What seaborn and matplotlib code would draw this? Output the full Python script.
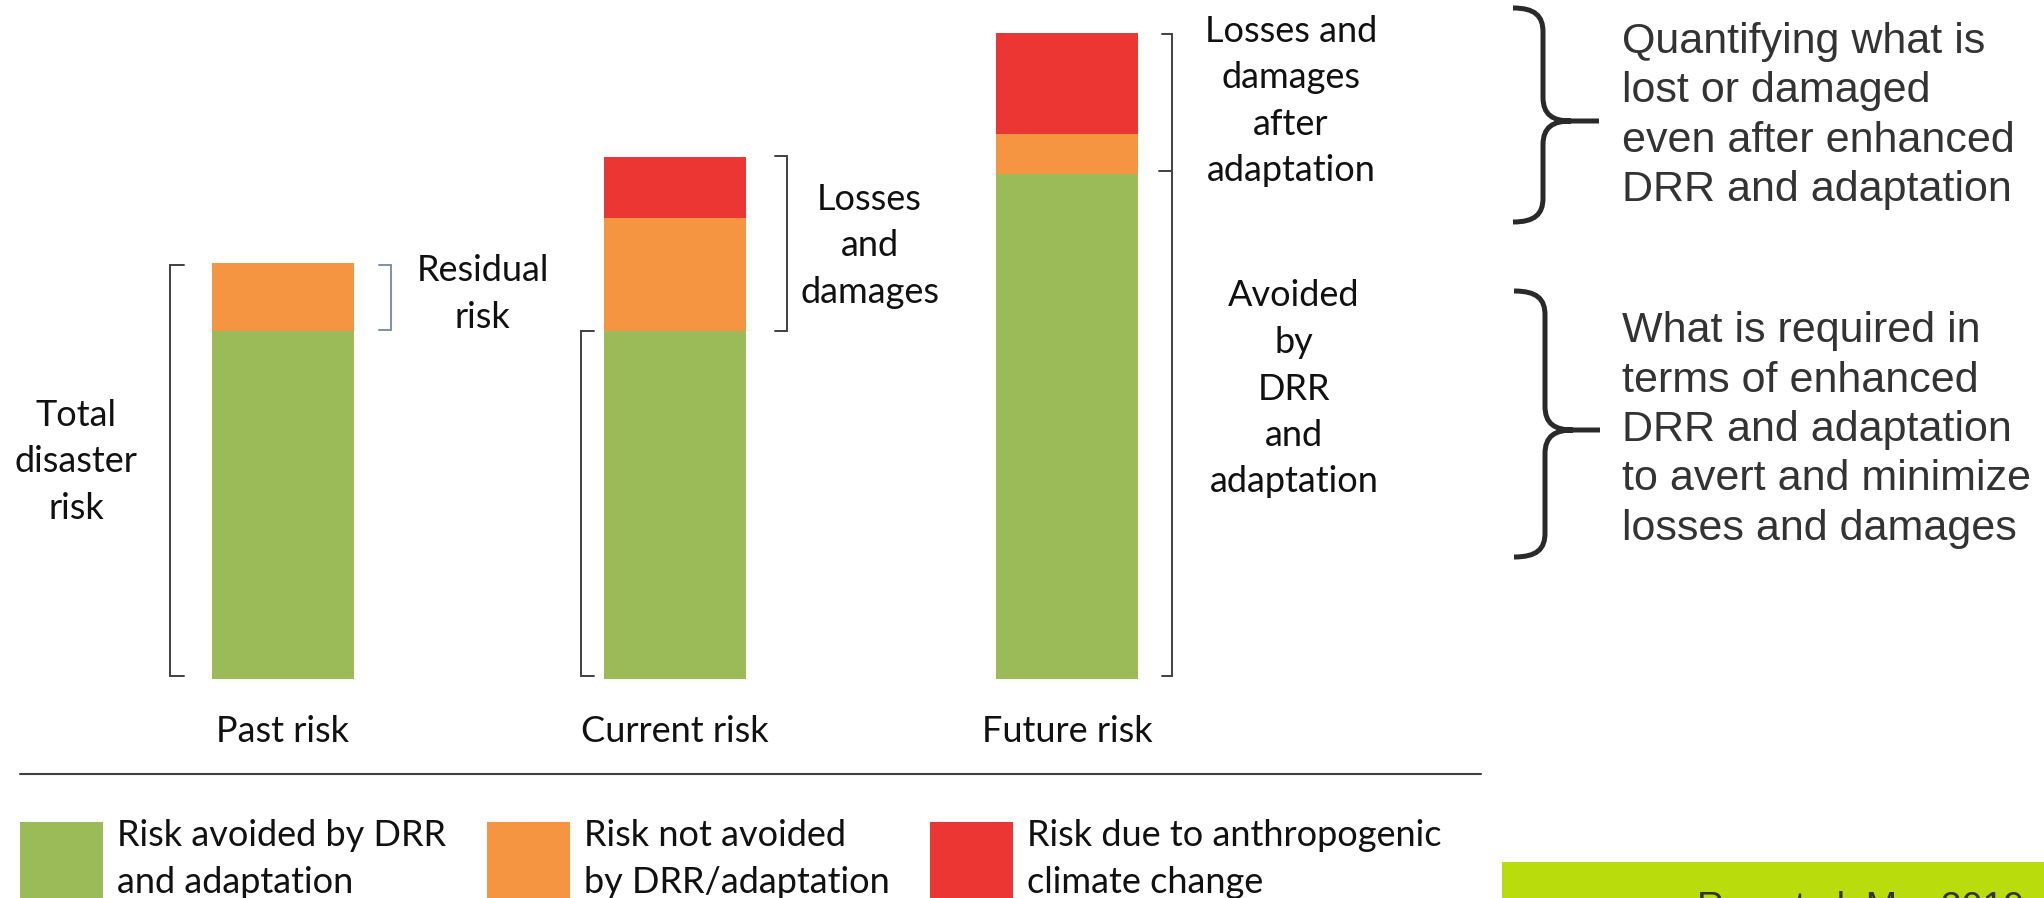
import matplotlib

matplotlib.use("Agg")
import matplotlib.pyplot as plt
import seaborn as sns
from matplotlib.patches import Rectangle, PathPatch
from matplotlib.path import Path

# values in relative units (past "avoided" bar = 100)
categories = ["Past risk", "Current risk", "Future risk"]
avoided = [100, 100, 145]       # risk avoided by DRR and adaptation
not_avoided = [19.5, 32.5, 11.5]  # risk not avoided by DRR/adaptation
climate = [0, 17.5, 29]          # risk due to anthropogenic climate change

legend_labels = [
    "Risk avoided by DRR\nand adaptation",
    "Risk not avoided\nby DRR/adaptation",
    "Risk due to anthropogenic\nclimate change",
]
note_top = "Quantifying what is\nlost or damaged\neven after enhanced\nDRR and adaptation"
note_bottom = ("What is required in\nterms of enhanced\nDRR and adaptation\n"
               "to avert and minimize\nlosses and damages")
source = "Roy et al. Mar 2019"

GREEN = "#9bbb59"
ORANGE = "#f59542"
RED = "#ec3634"
LIME = "#b9dc0c"
INK = "#404040"

W, H = 2044, 898

sns.set_style("white")
plt.rcParams["font.family"] = ["Lato", "DejaVu Sans"]

fig = plt.figure(figsize=(W / 100, H / 100), dpi=100)
ax = fig.add_axes([87 / W, 1 - 679 / H, 1176 / W, 678.6 / H])

tot_orange = [a + b for a, b in zip(avoided, not_avoided)]
tot_red = [t + c for t, c in zip(tot_orange, climate)]
for vals, col in [(tot_red, RED), (tot_orange, ORANGE), (avoided, GREEN)]:
    sns.barplot(x=categories, y=vals, color=col, saturation=1, width=0.362,
                errorbar=None, linewidth=0, ax=ax)

ax.set_xlim(-0.5, 2.5)
ax.set_ylim(0, 195)
ax.set_yticks([])
ax.set_xlabel("")
ax.set_ylabel("")
ax.tick_params(axis="x", length=0, pad=26, labelsize=26, labelcolor="#111111")
sns.despine(ax=ax, left=True, bottom=True)
ax.patch.set_alpha(0)

# overlay in pixel coordinates for annotations
ov = fig.add_axes([0, 0, 1, 1], zorder=5)
ov.set_xlim(0, W)
ov.set_ylim(H, 0)
ov.axis("off")
ov.patch.set_alpha(0)


def px(i, v):
    X, Y = ax.transData.transform((i, v))
    return X, H - Y


def bracket(x, y0, y1, tick, color=INK, mid=None):
    ov.plot([x + tick, x, x, x + tick], [y0, y0, y1, y1], color=color, lw=1.4,
            solid_joinstyle="miter")
    if mid is not None:
        ov.plot([x, x + tick * 1.3], [mid, mid], color=color, lw=1.4)


def brace(x_end, x_mid, x_tip, y0, ym, y1):
    r = 24
    verts = [(x_end, y0), (x_mid - 8, y0), (x_mid, y0 + 8), (x_mid, y0 + r),
             (x_mid, ym - r), (x_mid, ym - 6), (x_mid + 10, ym), (x_mid + 28, ym),
             (x_tip, ym),
             (x_mid + 28, ym), (x_mid + 10, ym), (x_mid, ym + 6), (x_mid, ym + r),
             (x_mid, y1 - r), (x_mid, y1 - 8), (x_mid - 8, y1), (x_end, y1)]
    codes = [Path.MOVETO, Path.CURVE4, Path.CURVE4, Path.CURVE4,
             Path.LINETO, Path.CURVE4, Path.CURVE4, Path.CURVE4,
             Path.LINETO,
             Path.MOVETO, Path.CURVE4, Path.CURVE4, Path.CURVE4,
             Path.LINETO, Path.CURVE4, Path.CURVE4, Path.CURVE4]
    ov.add_patch(PathPatch(Path(verts, codes), fill=False, lw=3.6,
                           edgecolor="#2a2a2a", capstyle="butt"))


lbl = dict(fontsize=26, color="#111111", ha="center", va="center",
           linespacing=1.5)

# past risk
cx, _ = px(0, 0)
_, yb = px(0, 0)
_, yg = px(0, avoided[0])
_, yo = px(0, tot_orange[0])
bracket(cx - 113.5, yo + 2, yb - 3, 14)
bracket(cx + 107.5, yo + 2, yg - 1, -12, color="#7d90a8")
ov.text(76, 462, "Total\ndisaster\nrisk", **lbl)
ov.text(cx + 199.5, 294, "Residual\nrisk", **lbl)

# current risk
cx, _ = px(1, 0)
_, yg = px(1, avoided[1])
_, yr = px(1, tot_red[1])
bracket(cx - 94.5, yg, yb - 3, 13)
bracket(cx + 111.5, yr - 1, yg, -12)
ov.text(cx + 194.5, 246, "Losses\nand\ndamages", **lbl)

# future risk
cx, _ = px(2, 0)
_, yg = px(2, avoided[2])
_, yr = px(2, tot_red[2])
bracket(cx + 105, yr + 1, yb - 3, -10, mid=yg - 3)
ov.text(cx + 224, 101, "Losses and\ndamages\nafter\nadaptation", **lbl)
ov.text(cx + 227, 389, "Avoided\nby\nDRR\nand\nadaptation", **lbl)

# divider and legend
ov.plot([20, 1481], [774, 774], color=INK, lw=1.5)
for x0, col, text in zip([20, 487, 930], [GREEN, ORANGE, RED], legend_labels):
    ov.add_patch(Rectangle((x0, 822), 83, 83, color=col, lw=0))
    ov.text(x0 + 97, 859, text, fontsize=26, color="#111111", ha="left",
            va="center", linespacing=1.5)

# right-hand notes
brace(1513, 1543, 1599, 8, 121, 222)
brace(1514, 1545, 1600, 291, 430, 557)
note = dict(family=["Liberation Sans", "DejaVu Sans"], fontsize=31,
            color="#333333", ha="left", va="center", linespacing=1.3)
ov.text(1622, 116, note_top, **note)
ov.text(1622, 430, note_bottom, **note)

ov.add_patch(Rectangle((1502, 862), W - 1502, H - 862, color=LIME, lw=0))
ov.text(1697, 919, source, family=["Liberation Sans", "DejaVu Sans"],
        fontsize=27, color="#333333", ha="left", va="baseline")

fig.savefig("out.png", dpi=100)
